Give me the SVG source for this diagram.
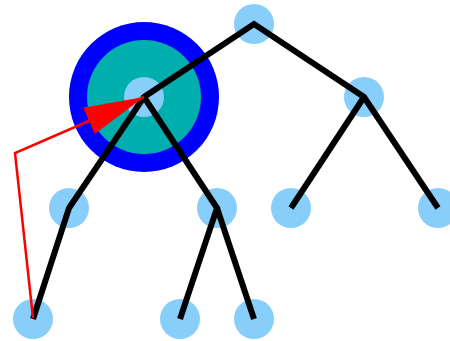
<svg xmlns="http://www.w3.org/2000/svg" width="450" height="341" viewBox="0 0 450 341">
  <style>
    .node { fill: #87CEFA; }
    .edge { fill: none; stroke: #000; stroke-width: 6; stroke-linejoin: miter; stroke-linecap: butt; }
    .pointer { fill: none; stroke: #FF0000; stroke-width: 2.5; }
  </style>
  <defs>
    <marker id="head" markerUnits="userSpaceOnUse" markerWidth="60" markerHeight="30" refX="56" refY="13.25" orient="auto" viewBox="0 0 56 26.5">
      <path d="M0,0 L56,13.25 L0,26.5 Z" fill="#FF0000"/>
    </marker>
  </defs>

  <!-- highlight rings around the selected node -->
  <g id="highlight">
    <circle cx="144" cy="97" r="75" fill="#0000FF"/>
    <circle cx="144" cy="97" r="57" fill="#00AEAE"/>
  </g>

  <g id="n-root"><circle class="node" cx="254" cy="24" r="20"/></g>
  <g id="n-l"><circle class="node" cx="144" cy="97" r="20"/></g>
  <g id="n-r"><circle class="node" cx="364" cy="97" r="20"/></g>
  <g id="n-ll"><circle class="node" cx="69" cy="208" r="20"/></g>
  <g id="n-lr"><circle class="node" cx="217" cy="208" r="20"/></g>
  <g id="n-rl"><circle class="node" cx="291" cy="208" r="20"/></g>
  <g id="n-rr"><circle class="node" cx="438" cy="208" r="20"/></g>
  <g id="n-lll"><circle class="node" cx="33" cy="319" r="20"/></g>
  <g id="n-lrl"><circle class="node" cx="180" cy="319" r="20"/></g>
  <g id="n-lrr"><circle class="node" cx="254" cy="319" r="20"/></g>

  <g id="edges">
    <polyline class="edge" points="33,319 69,208 144,97 254,24 364,97 438,208"/>
    <polyline class="edge" points="144,97 217,208 180,319"/>
    <polyline class="edge" points="217,208 254,319"/>
    <polyline class="edge" points="364,97 291,208"/>
    <polyline class="pointer" points="33,318 15,153 144,97" marker-end="url(#head)"/>
  </g>
</svg>
